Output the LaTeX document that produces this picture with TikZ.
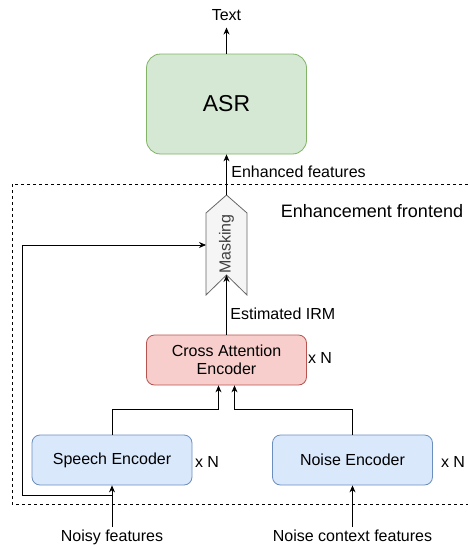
\documentclass[tikz,border=0pt]{standalone}
\usepackage{fontspec}
\setmainfont{Liberation Sans}
\usetikzlibrary{arrows.meta}
\definecolor{asrfill}{HTML}{D5E8D4}
\definecolor{asrdraw}{HTML}{82B366}
\definecolor{cafill}{HTML}{F8CECC}
\definecolor{cadraw}{HTML}{B85450}
\definecolor{encfill}{HTML}{DAE8FC}
\definecolor{encdraw}{HTML}{6C8EBF}
\definecolor{maskfill}{HTML}{F5F5F5}
\definecolor{maskdraw}{HTML}{666666}
\begin{document}
\begin{tikzpicture}[x=1pt,y=-1pt,line width=0.8pt,>={Stealth[length=7pt,width=6pt]},
    box/.style={draw,rounded corners=8pt,minimum width=160pt,minimum height=50pt,
        font=\fontsize{16}{18}\selectfont,align=center},
    lbl/.style={font=\fontsize{16}{18}\selectfont,inner sep=2pt}]

    \useasboundingbox (0,0) rectangle (467,546);

    \draw [dashed,line width=0.7pt] (12,184) rectangle (475,504);

    \node (asr) [box,fill=asrfill,draw=asrdraw,rounded corners=14pt,minimum width=160pt,minimum height=100pt,font=\fontsize{23}{28}\selectfont] at (226.5,104) {ASR};
    \node (cae) [box,fill=cafill,draw=cadraw] at (226.5,360) {Cross Attention\\Encoder};
    \node (speech) [box,fill=encfill,draw=encdraw] at (112,460) {Speech Encoder};
    \node (noise) [box,fill=encfill,draw=encdraw] at (352.5,460) {Noise Encoder};

    \draw [fill=maskfill,draw=maskdraw] (206,213) -- (226.5,195) -- (247,213) -- (247,295) -- (226.5,275) -- (206,295) -- cycle;
    \node (mask) [lbl,rotate=90,text=black!75] at (226.5,244) {Masking};
    \coordinate (masktip) at (226.5,195);
    \coordinate (masknotch) at (226.5,275);
    \coordinate (maskleft) at (206,245);

    \node (txt) [lbl,anchor=base,inner ysep=7pt] at (226.5,20) {Text};
    \node (noisy) [lbl,anchor=north] at (112,527) {Noisy features};
    \node (ctx) [lbl,anchor=north] at (352.5,527) {Noise context features};

    \node (enh) [lbl,anchor=west] at (229,172) {Enhanced features};
    \node (irm) [lbl,anchor=west] at (228,314) {Estimated IRM};
    \node (front) [lbl,font=\fontsize{18}{20}\selectfont] at (372,211) {Enhancement frontend};
    \node (ncae) [lbl] at (320,358) {x N};
    \node (nspeech) [lbl] at (207,462) {x N};
    \node (nnoise) [lbl] at (453,462) {x N};

    \coordinate (split) at (112,495);

    \draw[->] (asr.north) -- (txt.south);
    \draw[->] (masktip) -- (asr.south);
    \draw[->] (cae.north) -- (masknotch);
    \draw[->] (speech.north) -- ++(0,-25) -| ([xshift=-8pt]cae.south);
    \draw[->] (noise.north) -- ++(0,-25) -| ([xshift=8pt]cae.south);
    \draw[->] (noisy.north) -- (speech.south);
    \draw[->] (ctx.north) -- (noise.south);
    \draw[->] (split) -- (22,495) -- (22,245) -- (maskleft);

\end{tikzpicture}
\end{document}
